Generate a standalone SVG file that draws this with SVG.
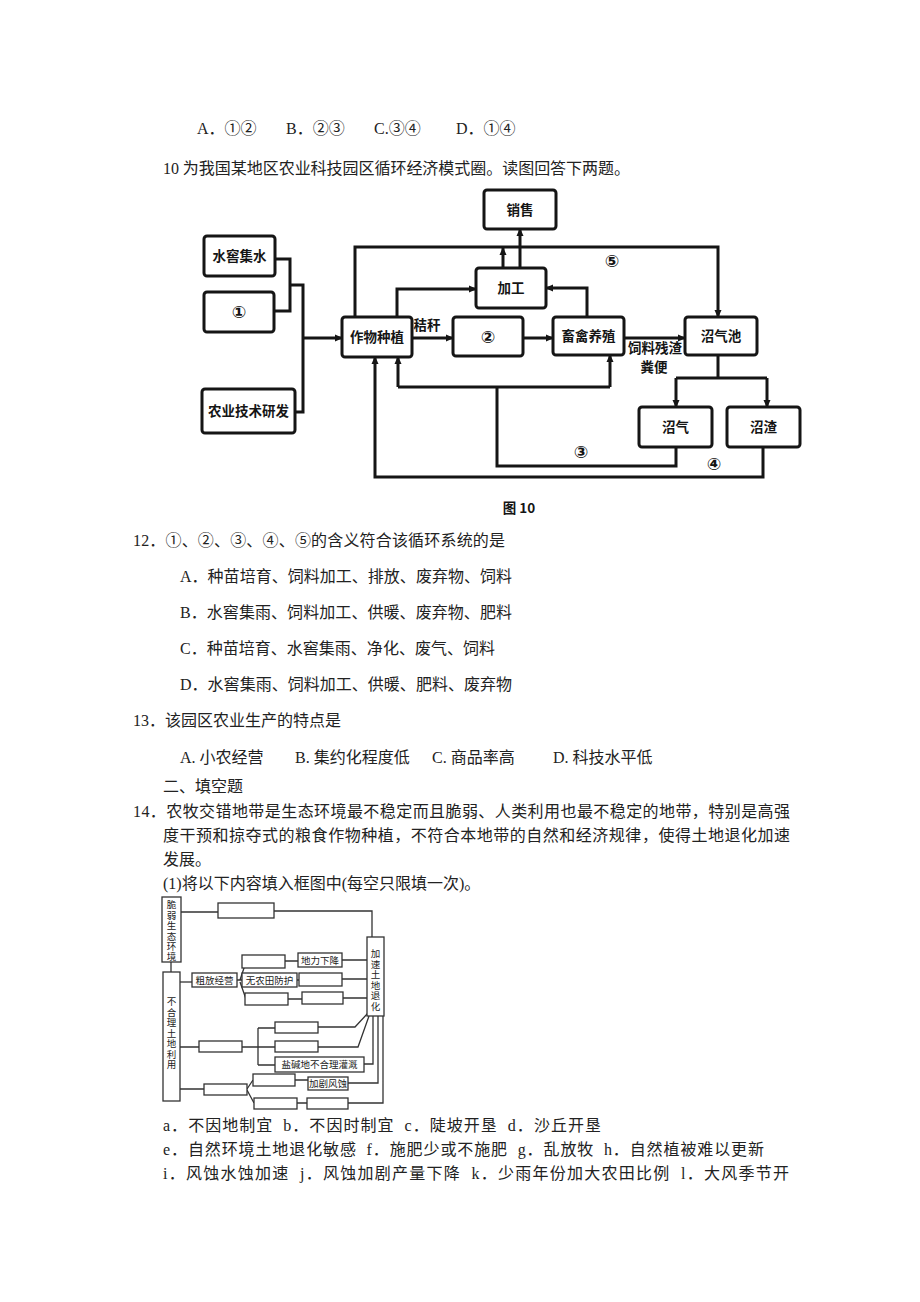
<svg xmlns="http://www.w3.org/2000/svg" width="920" height="1302" viewBox="0 0 920 1302">
<defs>
<style>
.t{font-family:"Liberation Serif","Noto Sans CJK SC",serif;font-size:16px;fill:#222}
.bx{fill:#fff;stroke:#151515;stroke-width:3}
.ln{fill:none;stroke:#151515;stroke-width:3}
.lb{font-family:"Noto Sans CJK SC","Noto Sans",sans-serif;font-size:13.5px;font-weight:700;fill:#151515;text-anchor:middle}
.cn{font-family:"DejaVu Sans","Noto Sans CJK SC",sans-serif;font-size:17px;font-weight:700;fill:#151515;text-anchor:middle}
.sb{fill:#fff;stroke:#333;stroke-width:1.3}
.sl{fill:none;stroke:#333;stroke-width:1.3}
.st{font-family:"Liberation Serif","Noto Sans CJK SC",serif;font-size:9.5px;fill:#222;text-anchor:middle}
</style>
<marker id="ah" viewBox="0 0 8 8" refX="7" refY="4" markerWidth="8" markerHeight="8" markerUnits="userSpaceOnUse" orient="auto">
<path d="M0,0.5 L8,4 L0,7.5 z" fill="#151515"/>
</marker>
</defs>
<rect width="920" height="1302" fill="#fff"/>

<g id="header-text">
<text class="t" x="197" y="134">A．①②</text>
<text class="t" x="286" y="134">B．②③</text>
<text class="t" x="374" y="134">C.③④</text>
<text class="t" x="456" y="134">D．①④</text>
<text class="t" x="163" y="174" textLength="467" lengthAdjust="spacing">10 为我国某地区农业科技园区循环经济模式圈。读图回答下两题。</text>
</g>

<g id="connectors-fig10">
<path class="ln" d="M275,259 H290 V311 H274"/>
<path class="ln" d="M290,285 H303 V412 H295"/>
<path class="ln" d="M303,338 H342" marker-end="url(#ah)"/>
<path class="ln" d="M412,338 H453" marker-end="url(#ah)"/>
<path class="ln" d="M523,338 H553" marker-end="url(#ah)"/>
<path class="ln" d="M624,338 H685" marker-end="url(#ah)"/>
<path class="ln" d="M355,317 V247 H718 V317" marker-end="url(#ah)"/>
<path class="ln" d="M397,317 V289 H476" marker-end="url(#ah)"/>
<path class="ln" d="M587,317 V288 H546" marker-end="url(#ah)"/>
<path class="ln" d="M520,268 V229" marker-end="url(#ah)"/>
<path class="ln" d="M503,268 V248" marker-end="url(#ah)"/>
<path class="ln" d="M718,355 V378 M676,378 H767"/>
<path class="ln" d="M676,378 V407" marker-end="url(#ah)"/>
<path class="ln" d="M767,378 V407" marker-end="url(#ah)"/>
<path class="ln" d="M676,447 V466 H497 V387 M398,387 H610"/>
<path class="ln" d="M398,387 V357" marker-end="url(#ah)"/>
<path class="ln" d="M610,387 V355" marker-end="url(#ah)"/>
<path class="ln" d="M763,447 V477 H375 V357" marker-end="url(#ah)"/>
<text class="lb" x="427" y="330" font-size="13">秸秆</text>
<text class="lb" x="655" y="353" font-size="12.5">饲料残渣</text>
<text class="lb" x="654" y="372" font-size="12.5">粪便</text>
<text class="cn" x="612" y="267">⑤</text>
<text class="cn" x="581" y="458">③</text>
<text class="cn" x="714" y="470">④</text>
</g>

<g id="n-xiaoshou"><rect class="bx" x="484" y="190" width="72" height="39" rx="3"/><text class="lb" x="520" y="215">销售</text></g>
<g id="n-shuijiao"><rect class="bx" x="204" y="236" width="71" height="40" rx="3"/><text class="lb" x="239.5" y="261">水窖集水</text></g>
<g id="n-1"><rect class="bx" x="204" y="292" width="70" height="40" rx="3"/><text class="cn" x="239" y="318">①</text></g>
<g id="n-nongye"><rect class="bx" x="202" y="389" width="93" height="44" rx="3"/><text class="lb" x="248.5" y="416">农业技术研发</text></g>
<g id="n-zuowu"><rect class="bx" x="342" y="317" width="70" height="40" rx="3"/><text class="lb" x="377" y="342">作物种植</text></g>
<g id="n-2"><rect class="bx" x="453" y="317" width="70" height="39" rx="3"/><text class="cn" x="488" y="343">②</text></g>
<g id="n-jiagong"><rect class="bx" x="476" y="268" width="70" height="40" rx="3"/><text class="lb" x="511" y="293">加工</text></g>
<g id="n-xuqin"><rect class="bx" x="553" y="317" width="71" height="38" rx="3"/><text class="lb" x="588.5" y="341">畜禽养殖</text></g>
<g id="n-zhaoqichi"><rect class="bx" x="685" y="317" width="72" height="38" rx="3"/><text class="lb" x="721" y="341">沼气池</text></g>
<g id="n-zhaoqi"><rect class="bx" x="639" y="407" width="73" height="40" rx="3"/><text class="lb" x="675.5" y="432">沼气</text></g>
<g id="n-zhaozha"><rect class="bx" x="727" y="407" width="73" height="40" rx="3"/><text class="lb" x="763.5" y="432">沼渣</text></g>
<text class="lb" x="519" y="513" font-size="19" font-weight="900">图 10</text>

<g id="questions">
<text class="t" x="133" y="546" textLength="372" lengthAdjust="spacing">12．①、②、③、④、⑤的含义符合该循环系统的是</text>
<text class="t" x="180" y="582" textLength="332" lengthAdjust="spacing">A．种苗培育、饲料加工、排放、废弃物、饲料</text>
<text class="t" x="180" y="618" textLength="332" lengthAdjust="spacing">B．水窖集雨、饲料加工、供暖、废弃物、肥料</text>
<text class="t" x="180" y="654" textLength="315" lengthAdjust="spacing">C．种苗培育、水窖集雨、净化、废气、饲料</text>
<text class="t" x="180" y="690" textLength="332" lengthAdjust="spacing">D．水窖集雨、饲料加工、供暖、肥料、废弃物</text>
<text class="t" x="133" y="726">13．该园区农业生产的特点是</text>
<text class="t" x="180" y="763">A. 小农经营</text>
<text class="t" x="295" y="763">B. 集约化程度低</text>
<text class="t" x="432" y="763">C. 商品率高</text>
<text class="t" x="553" y="763">D. 科技水平低</text>
<text class="t" x="163" y="792">二、填空题</text>
<text class="t" x="133" y="817" textLength="657" lengthAdjust="spacing">14．农牧交错地带是生态环境最不稳定而且脆弱、人类利用也最不稳定的地带，特别是高强</text>
<text class="t" x="163" y="841" textLength="627" lengthAdjust="spacing">度干预和掠夺式的粮食作物种植，不符合本地带的自然和经济规律，使得土地退化加速</text>
<text class="t" x="163" y="865">发展。</text>
<text class="t" x="163" y="889">(1)将以下内容填入框图中(每空只限填一次)。</text>
</g>

<g id="connectors-fig14">
<path class="sl" d="M181,912 H218 M274,911 H372 V937"/>
<path class="sl" d="M171,962 V972"/>
<path class="sl" d="M180,982 H192"/>
<path class="sl" d="M237,980 H242 M240,980 L246,962 M240,982 L246,999"/>
<path class="sl" d="M285,961 H298 M342,960 H367"/>
<path class="sl" d="M297,980 H299 M342,979 H367"/>
<path class="sl" d="M288,999 H302 M343,998 H367"/>
<path class="sl" d="M180,1047 H199 M242,1047 H258 M258,1028 V1065 M258,1028 H275 M258,1047 H275 M258,1065 H275"/>
<path class="sl" d="M318,1027 H355 L368,1013 M318,1047 H358 L369,1016 M364,1064 H373 V1016"/>
<path class="sl" d="M180,1089 H204 M247,1089 L253,1080 M247,1090 L254,1103"/>
<path class="sl" d="M295,1080 H308 M348,1083 H378 V1016 M297,1103 H307 M348,1103 H383 V1016"/>
</g>

<g id="s-cuiruo"><rect class="sb" x="162" y="897" width="19" height="65"/>
<text class="st"><tspan x="171.5" y="908">脆</tspan><tspan x="171.5" y="918.5">弱</tspan><tspan x="171.5" y="929">生</tspan><tspan x="171.5" y="939.5">态</tspan><tspan x="171.5" y="950">环</tspan><tspan x="171.5" y="960">境</tspan></text></g>
<g id="s-buheli"><rect class="sb" x="163" y="972" width="17" height="129"/>
<text class="st"><tspan x="171.5" y="1005">不</tspan><tspan x="171.5" y="1015.5">合</tspan><tspan x="171.5" y="1026">理</tspan><tspan x="171.5" y="1036.5">土</tspan><tspan x="171.5" y="1047">地</tspan><tspan x="171.5" y="1057.5">利</tspan><tspan x="171.5" y="1068">用</tspan></text></g>
<g id="s-jiasu"><rect class="sb" x="367" y="937" width="17" height="79"/>
<text class="st"><tspan x="375.5" y="957">加</tspan><tspan x="375.5" y="967.5">速</tspan><tspan x="375.5" y="978">土</tspan><tspan x="375.5" y="988.5">地</tspan><tspan x="375.5" y="999">退</tspan><tspan x="375.5" y="1009.5">化</tspan></text></g>
<g id="s-b1"><rect class="sb" x="218" y="903" width="56" height="15"/></g>
<g id="s-cufang"><rect class="sb" x="192" y="973" width="45" height="14"/><text class="st" x="214.5" y="983.5">粗放经营</text></g>
<g id="s-b2"><rect class="sb" x="242" y="955" width="43" height="13"/></g>
<g id="s-dili"><rect class="sb" x="298" y="953" width="44" height="14"/><text class="st" x="320" y="963.5">地力下降</text></g>
<g id="s-wunongtian"><rect class="sb" x="242" y="973" width="55" height="14"/><text class="st" x="269.5" y="983.5">无农田防护</text></g>
<g id="s-b3"><rect class="sb" x="299" y="973" width="43" height="13"/></g>
<g id="s-b4"><rect class="sb" x="245" y="993" width="43" height="12"/></g>
<g id="s-b5"><rect class="sb" x="302" y="992" width="41" height="12"/></g>
<g id="s-b6"><rect class="sb" x="199" y="1041" width="43" height="11"/></g>
<g id="s-b7"><rect class="sb" x="275" y="1022" width="43" height="11"/></g>
<g id="s-b8"><rect class="sb" x="275" y="1041" width="43" height="11"/></g>
<g id="s-yanjian"><rect class="sb" x="275" y="1057" width="89" height="15"/><text class="st" x="319.5" y="1068">盐碱地不合理灌溉</text></g>
<g id="s-b9"><rect class="sb" x="204" y="1084" width="43" height="11"/></g>
<g id="s-b10"><rect class="sb" x="253" y="1074" width="42" height="12"/></g>
<g id="s-fengshi"><rect class="sb" x="308" y="1077" width="40" height="13"/><text class="st" x="328" y="1087">加剧风蚀</text></g>
<g id="s-b11"><rect class="sb" x="254" y="1098" width="43" height="11"/></g>
<g id="s-b12"><rect class="sb" x="307" y="1098" width="41" height="11"/></g>

<g id="options-text">
<text class="t" x="163" y="1131" textLength="438" lengthAdjust="spacing" xml:space="preserve">a．不因地制宜  b．不因时制宜  c．陡坡开垦  d．沙丘开垦</text>
<text class="t" x="163" y="1155" textLength="601" lengthAdjust="spacing" xml:space="preserve">e．自然环境土地退化敏感  f．施肥少或不施肥  g．乱放牧  h．自然植被难以更新</text>
<text class="t" x="163" y="1179" textLength="626" lengthAdjust="spacing" xml:space="preserve">i．风蚀水蚀加速  j．风蚀加剧产量下降  k．少雨年份加大农田比例  l．大风季节开</text>
</g>
</svg>
